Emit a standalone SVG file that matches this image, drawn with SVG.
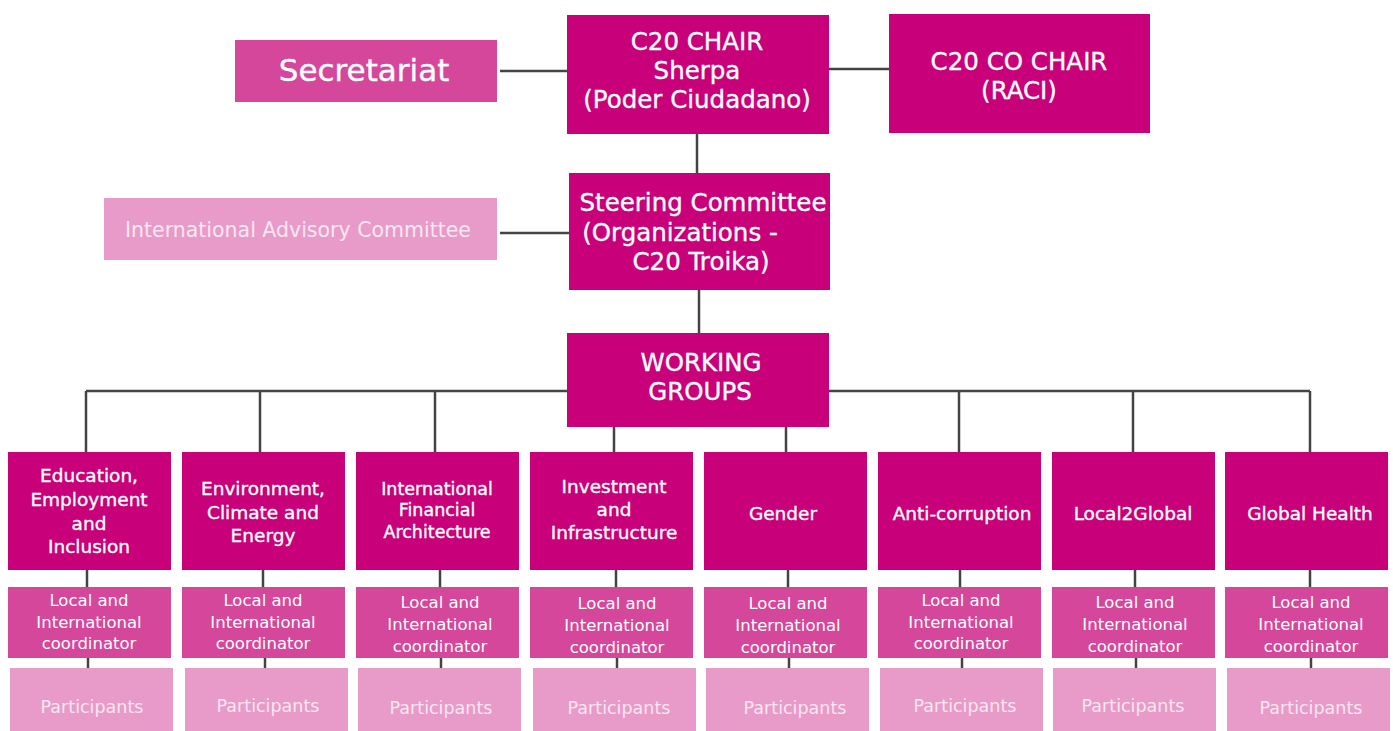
<svg xmlns="http://www.w3.org/2000/svg" width="1393" height="731" viewBox="0 0 1393 731">
<style>
.dk{fill:#c8007a}
.md{fill:#d5479b}
.lt{fill:#e89bc8}
text{font-family:"DejaVu Sans","Liberation Sans",sans-serif;fill:#ffffff;text-anchor:middle;stroke:#ffffff;stroke-width:0.35}
.h{font-size:24.5px}
.s{font-size:18.5px}
.c{font-size:16.5px;stroke:none}
.p{font-size:17.5px;fill:#fbe6f2;stroke:none}
.conn{stroke:#444444;stroke-width:2.5;fill:none}
</style>
<rect width="1393" height="731" fill="#ffffff"/>
<g id="connectors" class="conn">
<path d="M500 71H567M829 69H889M697 134V173M500 233H569M699 290V333"/>
<path d="M86 391H567M829 391H1310M86 391V452M260 391V452M435 391V452M959 391V452M1133 391V452M1310 391V452M614 427V452M786 427V452"/>
<path d="M87 570V587M263 570V587M440 570V587M616 570V587M788 570V587M960 570V587M1135 570V587M1310 570V587"/>
<path d="M88 658V668M265 658V668M441 658V668M617 658V668M789 658V668M962 658V668M1136 658V668M1311 658V668"/>
</g>
<g id="secretariat"><rect class="md" x="235" y="40" width="262" height="62"/><text x="364" y="81" style="font-size:31px">Secretariat</text></g>
<g id="chair"><rect class="dk" x="567" y="15" width="262" height="119"/><text class="h" x="697" y="50">C20 CHAIR</text><text class="h" x="697" y="79">Sherpa</text><text class="h" x="697" y="108">(Poder Ciudadano)</text></g>
<g id="cochair"><rect class="dk" x="889" y="14" width="261" height="119"/><text class="h" x="1019" y="70">C20 CO CHAIR</text><text class="h" x="1019" y="99">(RACI)</text></g>
<g id="steering"><rect class="dk" x="569" y="173" width="261" height="117"/><text class="h" x="703" y="211">Steering Committee</text><text class="h" x="680" y="241">(Organizations -</text><text class="h" x="701" y="270">C20 Troika)</text></g>
<g id="advisory"><rect class="lt" x="104" y="198" width="393" height="62"/><text x="298" y="237" style="font-size:20.5px;fill:#fbe6f2;stroke:none">International Advisory Committee</text></g>
<g id="working-groups"><rect class="dk" x="567" y="333" width="262" height="94"/><text class="h" x="701" y="371">WORKING</text><text class="h" x="700" y="400">GROUPS</text></g>
<g id="wg1"><rect class="dk" x="8" y="452" width="163" height="118"/><text class="s" x="89" y="482">Education,</text><text class="s" x="89" y="506">Employment</text><text class="s" x="89" y="530">and</text><text class="s" x="89" y="553">Inclusion</text></g>
<g id="wg2"><rect class="dk" x="182" y="452" width="163" height="118"/><text class="s" x="263" y="495">Environment,</text><text class="s" x="263" y="519">Climate and</text><text class="s" x="263" y="542">Energy</text></g>
<g id="wg3"><rect class="dk" x="356" y="452" width="163" height="118"/><text x="437" y="495" style="font-size:17.5px">International</text><text x="437" y="516" style="font-size:17.5px">Financial</text><text x="437" y="538" style="font-size:17.5px">Architecture</text></g>
<g id="wg4"><rect class="dk" x="530" y="452" width="163" height="118"/><text class="s" x="614" y="493">Investment</text><text class="s" x="614" y="516">and</text><text class="s" x="614" y="539">Infrastructure</text></g>
<g id="wg5"><rect class="dk" x="704" y="452" width="163" height="118"/><text class="s" x="783" y="520">Gender</text></g>
<g id="wg6"><rect class="dk" x="878" y="452" width="163" height="118"/><text class="s" x="962" y="520">Anti-corruption</text></g>
<g id="wg7"><rect class="dk" x="1052" y="452" width="163" height="118"/><text class="s" x="1133" y="520">Local2Global</text></g>
<g id="wg8"><rect class="dk" x="1225" y="452" width="163" height="118"/><text class="s" x="1310" y="520">Global Health</text></g>
<g id="coord1"><rect class="md" x="8" y="587" width="163" height="71"/><text class="c" x="89" y="606">Local and</text><text class="c" x="89" y="628">International</text><text class="c" x="89" y="649">coordinator</text></g>
<g id="coord2"><rect class="md" x="182" y="587" width="163" height="71"/><text class="c" x="263" y="606">Local and</text><text class="c" x="263" y="628">International</text><text class="c" x="263" y="649">coordinator</text></g>
<g id="coord3"><rect class="md" x="356" y="587" width="163" height="71"/><text class="c" x="440" y="608">Local and</text><text class="c" x="440" y="630">International</text><text class="c" x="440" y="652">coordinator</text></g>
<g id="coord4"><rect class="md" x="530" y="587" width="163" height="71"/><text class="c" x="617" y="609">Local and</text><text class="c" x="617" y="631">International</text><text class="c" x="617" y="653">coordinator</text></g>
<g id="coord5"><rect class="md" x="704" y="587" width="163" height="71"/><text class="c" x="788" y="609">Local and</text><text class="c" x="788" y="631">International</text><text class="c" x="788" y="653">coordinator</text></g>
<g id="coord6"><rect class="md" x="878" y="587" width="163" height="71"/><text class="c" x="961" y="606">Local and</text><text class="c" x="961" y="628">International</text><text class="c" x="961" y="649">coordinator</text></g>
<g id="coord7"><rect class="md" x="1052" y="587" width="163" height="71"/><text class="c" x="1135" y="608">Local and</text><text class="c" x="1135" y="630">International</text><text class="c" x="1135" y="652">coordinator</text></g>
<g id="coord8"><rect class="md" x="1225" y="587" width="163" height="71"/><text class="c" x="1311" y="608">Local and</text><text class="c" x="1311" y="630">International</text><text class="c" x="1311" y="652">coordinator</text></g>
<g id="part1"><rect class="lt" x="10" y="668" width="163" height="63"/><text class="p" x="92" y="713">Participants</text></g>
<g id="part2"><rect class="lt" x="185" y="668" width="163" height="63"/><text class="p" x="268" y="712">Participants</text></g>
<g id="part3"><rect class="lt" x="358" y="668" width="163" height="63"/><text class="p" x="441" y="714">Participants</text></g>
<g id="part4"><rect class="lt" x="533" y="668" width="163" height="63"/><text class="p" x="619" y="714">Participants</text></g>
<g id="part5"><rect class="lt" x="706" y="668" width="163" height="63"/><text class="p" x="795" y="714">Participants</text></g>
<g id="part6"><rect class="lt" x="880" y="668" width="163" height="63"/><text class="p" x="965" y="712">Participants</text></g>
<g id="part7"><rect class="lt" x="1053" y="668" width="163" height="63"/><text class="p" x="1133" y="712">Participants</text></g>
<g id="part8"><rect class="lt" x="1227" y="668" width="163" height="63"/><text class="p" x="1311" y="714">Participants</text></g>
</svg>
